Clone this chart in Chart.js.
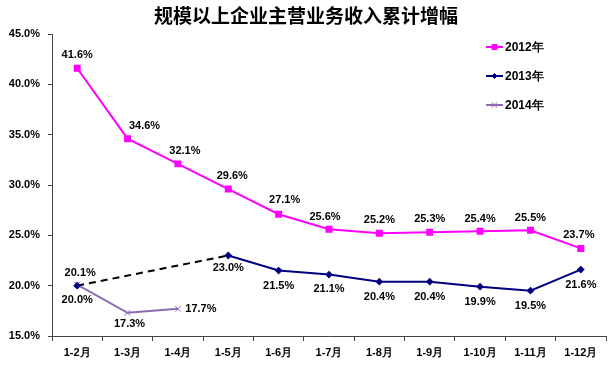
<!DOCTYPE html>
<html>
<head>
<meta charset="utf-8">
<script src="https://cdn.jsdelivr.net/npm/chart.js@4"></script>
<style>
  html, body { margin: 0; padding: 0; background: #fff; }
  #wrap { width: 612px; height: 374px; position: relative; }
</style>
</head>
<body>
<div id="wrap"><canvas id="chart"></canvas></div>
<script>
// chart data
const categories = ["1-2月", "1-3月", "1-4月", "1-5月", "1-6月", "1-7月", "1-8月", "1-9月", "1-10月", "1-11月", "1-12月"];
const series2012 = [41.6, 34.6, 32.1, 29.6, 27.1, 25.6, 25.2, 25.3, 25.4, 25.5, 23.7];
const series2013 = [20.0, null, null, 23.0, 21.5, 21.1, 20.4, 20.4, 19.9, 19.5, 21.6];
const series2014 = [20.1, 17.3, 17.7, null, null, null, null, null, null, null, null];
const gap2013 = [20.0, null, null, 23.0, null, null, null, null, null, null, null];
const yTicks = [15, 20, 25, 30, 35, 40, 45];
const titleText = "规模以上企业主营业务收入累计增幅";

// label offsets (dx, dy) from each point
const off2012 = [[0, -13], [17, -13], [7, -13], [4, -13], [6, -14], [-4, -12], [0, -13], [0, -13], [0, -12], [0, -12], [-2, -13]];
const off2013 = [[0, 14], null, null, [0, 13], [0, 15], [0, 14], [0, 15], [0, 15], [0, 15], [0, 15], [0, 15]];
const off2014 = [[3, -12], [2, 11], [23, 0]];

const FONT = "'Liberation Sans', Arial, sans-serif";

// draws title, data labels and the legend
const decor = {
    id: "decor",
    afterDatasetsDraw(chart) {
        const ctx = chart.ctx;
        ctx.save();
        ctx.fillStyle = "#000";
        ctx.textAlign = "center";
        ctx.textBaseline = "middle";
        ctx.font = "bold 19px 'Noto Sans CJK SC', sans-serif";
        ctx.fillText(titleText, chart.width / 2, 16);

        ctx.font = "bold 11px " + FONT;
        const offs = [off2012, off2013, off2014];
        [0, 1, 2].forEach(i => {
            const meta = chart.getDatasetMeta(i);
            const data = chart.data.datasets[i].data;
            meta.data.forEach((pt, j) => {
                if (data[j] == null || !offs[i][j]) return;
                const o = offs[i][j];
                ctx.fillText(data[j].toFixed(1) + "%", pt.x + o[0], pt.y + o[1]);
            });
        });

        // legend
        ctx.textAlign = "left";
        ctx.font = "bold 12px " + FONT;
        [0, 1, 2].forEach((i, k) => {
            const ds = chart.data.datasets[i];
            const y = 47 + k * 29;
            ctx.strokeStyle = ds.borderColor;
            ctx.fillStyle = ds.borderColor;
            ctx.lineWidth = 2;
            ctx.beginPath();
            ctx.moveTo(486, y);
            ctx.lineTo(503, y);
            ctx.stroke();
            ctx.lineWidth = ds.pointBorderWidth || 1;
            Chart.helpers.drawPoint(ctx, {
                pointStyle: ds.pointStyle, radius: ds.pointRadius, borderWidth: ds.pointBorderWidth || 1
            }, 494.5, y);
            ctx.fillStyle = "#000";
            ctx.fillText(ds.label, 505, y + 1);
        });
        ctx.restore();
    }
};

const ctx = document.getElementById("chart").getContext("2d");
new Chart(ctx, {
    type: "line",
    data: {
        labels: categories,
        datasets: [
            {
                label: "2012年",
                data: series2012,
                borderColor: "#FF00FF",
                backgroundColor: "#FF00FF",
                borderWidth: 2,
                pointStyle: "rect",
                pointRadius: 3.5,
                tension: 0
            },
            {
                label: "2013年",
                data: series2013,
                borderColor: "#000080",
                backgroundColor: "#000080",
                borderWidth: 2,
                pointStyle: "rectRot",
                pointRadius: 2.5,
                spanGaps: false,
                tension: 0
            },
            {
                label: "2014年",
                data: series2014,
                borderColor: "#8C6BB1",
                backgroundColor: "#8C6BB1",
                borderWidth: 2,
                pointStyle: "crossRot",
                pointRadius: 4,
                pointBorderWidth: 1,
                tension: 0
            },
            {
                label: "gap",
                data: gap2013,
                borderColor: "#000",
                borderWidth: 2,
                borderDash: [7, 5],
                pointRadius: 0,
                spanGaps: true,
                tension: 0
            }
        ]
    },
    options: {
        responsive: true,
        maintainAspectRatio: false,
        animation: false,
        layout: { padding: { top: 34, right: 2, left: 0, bottom: 0 } },
        plugins: {
            legend: { display: false },
            tooltip: { enabled: false }
        },
        scales: {
            x: {
                offset: true,
                grid: {
                    offset: true,
                    drawOnChartArea: false,
                    tickLength: 5,
                    color: "#444"
                },
                border: { color: "#444", width: 1 },
                ticks: {
                    color: "#000",
                    padding: 5,
                    maxRotation: 0,
                    font: { family: FONT, size: 11, weight: "bold" }
                },
                afterFit(scale) { scale.height = 38; }
            },
            y: {
                min: 15,
                max: 45,
                afterBuildTicks(scale) { scale.ticks = yTicks.map(v => ({ value: v })); },
                grid: {
                    drawOnChartArea: false,
                    tickLength: 4,
                    color: "#444"
                },
                border: { color: "#444", width: 1 },
                ticks: {
                    color: "#000",
                    padding: 8,
                    font: { family: FONT, size: 11, weight: "bold" },
                    callback: v => v.toFixed(1) + "%"
                },
                afterFit(scale) { scale.width = 52; }
            }
        }
    },
    plugins: [decor]
});
</script>
</body>
</html>
